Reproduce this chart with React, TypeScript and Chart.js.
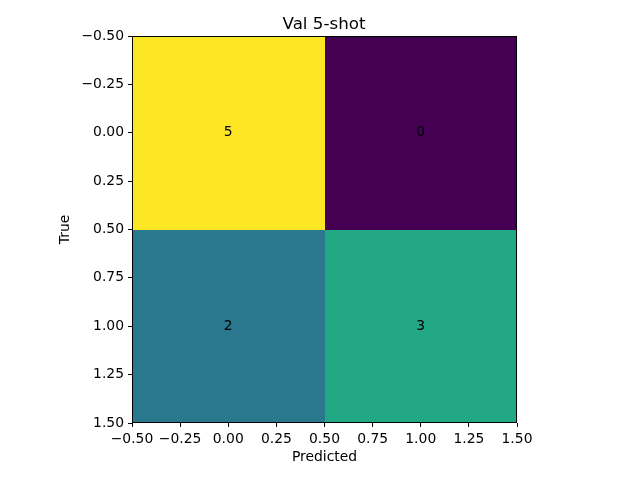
import React, { useEffect, useRef } from "react";
import { Chart, registerables } from "chart.js";

Chart.register(...registerables);

const TITLE = "Val 5-shot";
const X_LABEL = "Predicted";
const Y_LABEL = "True";
const predictedClasses = [0, 1];
const trueClasses = [0, 1];
const counts = [
  [5, 0],
  [2, 3],
];
const tickValues = [-0.5, -0.25, 0, 0.25, 0.5, 0.75, 1, 1.25, 1.5];

const VIRIDIS = [
  "#440154", "#482475", "#414487", "#355f8d", "#2a788e", "#21918c",
  "#22a884", "#44bf70", "#7ad151", "#bddf26", "#fde725",
];

function hexToRgb(h: string) {
  return [parseInt(h.slice(1, 3), 16), parseInt(h.slice(3, 5), 16), parseInt(h.slice(5, 7), 16)];
}
function viridis(t: number) {
  const x = Math.max(0, Math.min(1, t)) * (VIRIDIS.length - 1);
  const i = Math.min(VIRIDIS.length - 2, Math.floor(x));
  const f = x - i;
  const a = hexToRgb(VIRIDIS[i]);
  const b = hexToRgb(VIRIDIS[i + 1]);
  const c = a.map((v, k) => Math.round(v + (b[k] - v) * f));
  return `rgb(${c[0]},${c[1]},${c[2]})`;
}

const FONT = "'DejaVu Sans', sans-serif";
const fmt = (v: number) => {
  const s = Math.abs(v).toFixed(2);
  return v < 0 ? "\u2212" + s : s;
};

const heatmapPlugin = {
  id: "heatmap",
  beforeDatasetsDraw(chart: any) {
    const { ctx, scales } = chart;
    const xs = scales.x;
    const ys = scales.y;
    const all = counts.flat();
    const mn = Math.min(...all);
    const mx = Math.max(...all);
    ctx.save();
    trueClasses.forEach((r, ri) => {
      predictedClasses.forEach((c, ci) => {
        const v = counts[ri][ci];
        const xa = Math.round(xs.getPixelForValue(c - 0.5));
        const xb = Math.round(xs.getPixelForValue(c + 0.5));
        const ya = Math.round(ys.getPixelForValue(r - 0.5));
        const yb = Math.round(ys.getPixelForValue(r + 0.5));
        ctx.fillStyle = viridis((v - mn) / (mx - mn || 1));
        ctx.fillRect(Math.min(xa, xb), Math.min(ya, yb), Math.abs(xb - xa), Math.abs(yb - ya));
        ctx.fillStyle = "#000";
        ctx.font = `13.9px ${FONT}`;
        ctx.textAlign = "center";
        ctx.textBaseline = "middle";
        ctx.fillText(String(v), xs.getPixelForValue(c), ys.getPixelForValue(r));
      });
    });
    ctx.restore();
  },
  afterDraw(chart: any) {
    const { ctx, chartArea } = chart;
    ctx.save();
    ctx.strokeStyle = "#000";
    ctx.lineWidth = 1;
    const l = Math.round(chartArea.left) + 0.5;
    const r = Math.round(chartArea.right) - 0.5;
    const t = Math.round(chartArea.top) + 0.5;
    const b = Math.round(chartArea.bottom) - 0.5;
    ctx.strokeRect(l, t, r - l, b - t);
    ctx.restore();
  },
};

export default function App() {
  const ref = useRef<HTMLCanvasElement>(null);
  useEffect(() => {
    document.body.style.margin = "0";
    const axisCommon = (axis: "x" | "y") => ({
      type: "linear" as const,
      position: axis === "x" ? ("bottom" as const) : ("left" as const),
      min: -0.5,
      max: 1.5,
      reverse: axis === "y",
      afterBuildTicks(scale: any) {
        scale.ticks = tickValues.map((v) => ({ value: v }));
      },
      afterFit(scale: any) {
        if (axis === "y") scale.width = 124;
        else scale.height = 57;
      },
      border: { display: false },
      grid: {
        drawOnChartArea: false,
        drawTicks: true,
        tickLength: 4,
        tickWidth: 1,
        color: "#000",
      },
      ticks: {
        autoSkip: false,
        maxRotation: 0,
        minRotation: 0,
        padding: 4,
        color: "#000",
        font: { family: FONT, size: 13.9 },
        callback: (v: any) => fmt(Number(v)),
      },
      title: {
        display: true,
        text: axis === "x" ? X_LABEL : Y_LABEL,
        color: "#000",
        font: { family: FONT, size: 13.9 },
        padding: axis === "x" ? { top: 0, bottom: 14 } : { top: 49, bottom: 0 },
      },
    });
    const chart = new Chart(ref.current!, {
      type: "scatter",
      data: {
        datasets: [
          {
            data: trueClasses.flatMap((r) => predictedClasses.map((c) => ({ x: c, y: r }))),
            pointRadius: 0,
            pointHoverRadius: 0,
          },
        ],
      },
      options: {
        responsive: false,
        animation: false,
        layout: { padding: { left: 8, right: 0, top: 0, bottom: 0 } },
        plugins: {
          legend: { display: false },
          tooltip: { enabled: false },
          title: {
            display: true,
            text: TITLE,
            color: "#000",
            font: { family: FONT, size: 16.7, weight: "normal" },
            padding: { top: 15, bottom: 1 },
          },
        },
        scales: {
          x: axisCommon("x"),
          y: axisCommon("y"),
          yRight: {
            type: "linear",
            position: "right",
            display: true,
            min: 0,
            max: 1,
            grid: { display: false, drawTicks: false },
            border: { display: false },
            ticks: { display: false },
            afterFit(scale: any) {
              scale.width = 123;
            },
          },
        },
      },
      plugins: [heatmapPlugin],
    });
    return () => chart.destroy();
  }, []);
  return (
    <div style={{ position: "absolute", left: 0, top: 0, width: 640, height: 480, background: "#fff" }}>
      <canvas ref={ref} width={640} height={480} />
    </div>
  );
}
